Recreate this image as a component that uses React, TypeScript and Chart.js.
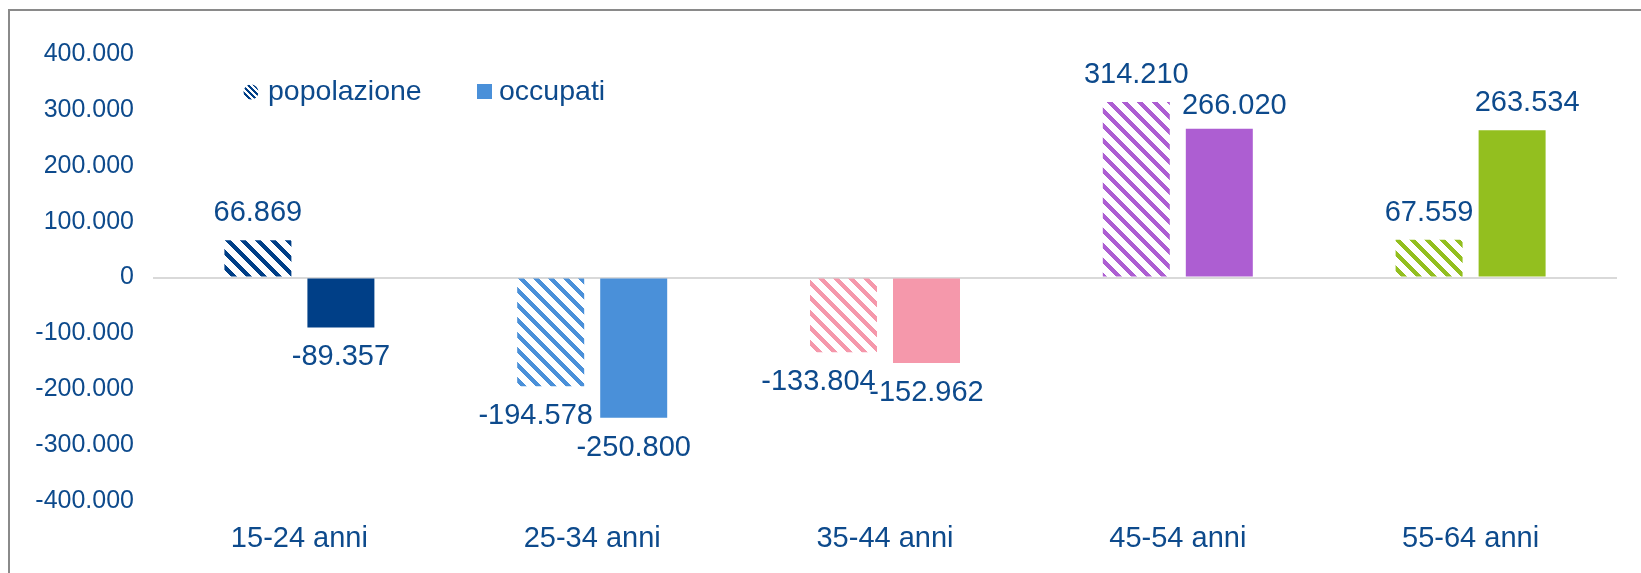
import React, { useEffect, useRef } from "react";
import { Chart, registerables } from "chart.js";

Chart.register(...registerables);

const categories = ["15-24 anni", "25-34 anni", "35-44 anni", "45-54 anni", "55-64 anni"];
const popolazione = [66869, -194578, -133804, 314210, 67559];
const occupati = [-89357, -250800, -152962, 266020, 263534];
const seriesNames = ["popolazione", "occupati"];
const yTickValues = [400000, 300000, 200000, 100000, 0, -100000, -200000, -300000, -400000];
const yTickLabels = ["400.000", "300.000", "200.000", "100.000", "0", "-100.000", "-200.000", "-300.000", "-400.000"];
const categoryColors = ["#003F87", "#4A90D9", "#F598AB", "#AD5ED2", "#93BF1F"];

// label nudges (styling only)
const popLabelDx = [0, -15, -25, 0, 0];
const occLabelDx = [0, 0, 0, 15, 15];
const occLabelDy = [0, 0, 0, 4, 0];

const TEXT = "#0D4A8C";
const FONT = "'Liberation Sans', Arial, sans-serif";

function fmt(v: number): string {
  const s = Math.abs(Math.round(v)).toString().replace(/\B(?=(\d{3})+(?!\d))/g, ".");
  return (v < 0 ? "-" : "") + s;
}

function makePattern(color: string, P: number, w: number): CanvasPattern | string {
  const c = document.createElement("canvas");
  c.width = P;
  c.height = P;
  const g = c.getContext("2d");
  if (!g) return color;
  g.fillStyle = color;
  for (let y = 0; y < P; y++) {
    for (let x = 0; x < P; x++) {
      if ((((x - y) % P) + P) % P < w) g.fillRect(x, y, 1, 1);
    }
  }
  const p = g.createPattern(c, "repeat");
  return p || color;
}

export default function App() {
  const ref = useRef<HTMLCanvasElement | null>(null);

  useEffect(() => {
    const canvas = ref.current;
    if (!canvas) return;
    const patterns = categoryColors.map((c) => makePattern(c, 15, 6));
    const legendPattern = makePattern(categoryColors[0], 6, 3);

    const labelsPlugin = {
      id: "valueLabels",
      afterDatasetsDraw(chart: any) {
        const ctx = chart.ctx;
        ctx.save();
        ctx.font = `29px ${FONT}`;
        ctx.fillStyle = TEXT;
        ctx.textAlign = "center";
        ctx.textBaseline = "middle";
        chart.data.datasets.forEach((ds: any, di: number) => {
          const meta = chart.getDatasetMeta(di);
          meta.data.forEach((bar: any, i: number) => {
            const v = ds.data[i];
            const dx = di === 0 ? popLabelDx[i] : occLabelDx[i];
            const dy = di === 1 ? occLabelDy[i] : 0;
            const y = v >= 0 ? bar.y - 27 + dy : bar.y + 30 + dy;
            ctx.fillText(fmt(v), bar.x + dx, y);
          });
        });
        ctx.restore();
      },
    };

    const legendPlugin = {
      id: "customLegend",
      afterDraw(chart: any) {
        const ctx = chart.ctx;
        ctx.save();
        ctx.font = `28.5px ${FONT}`;
        ctx.textAlign = "left";
        ctx.textBaseline = "middle";
        ctx.save();
        ctx.beginPath();
        ctx.arc(251, 92, 7.5, 0, Math.PI * 2);
        ctx.clip();
        ctx.fillStyle = legendPattern as any;
        ctx.fillRect(243, 84, 16, 16);
        ctx.restore();
        ctx.fillStyle = TEXT;
        ctx.fillText(seriesNames[0], 268, 92);
        ctx.fillStyle = categoryColors[1];
        ctx.fillRect(477, 84, 15, 15);
        ctx.fillStyle = TEXT;
        ctx.fillText(seriesNames[1], 499, 92);
        ctx.restore();
      },
    };

    const chart = new Chart(canvas, {
      type: "bar",
      data: {
        labels: categories,
        datasets: [
          {
            label: seriesNames[0],
            data: popolazione,
            backgroundColor: patterns as any,
            borderWidth: 0,
            categoryPercentage: 0.567,
            barPercentage: 0.807,
          },
          {
            label: seriesNames[1],
            data: occupati,
            backgroundColor: categoryColors,
            borderWidth: 0,
            categoryPercentage: 0.567,
            barPercentage: 0.807,
          },
        ],
      },
      options: {
        animation: false,
        responsive: false,
        maintainAspectRatio: false,
        devicePixelRatio: 1,
        layout: { padding: { top: 54, right: 24, left: 0, bottom: 0 } },
        plugins: {
          legend: { display: false },
          tooltip: { enabled: false },
        },
        scales: {
          x: {
            grid: { display: false, drawTicks: false },
            border: { display: false },
            ticks: {
              color: TEXT,
              font: { family: FONT, size: 29 },
              padding: 21,
              maxRotation: 0,
            },
            afterFit: (s: any) => {
              s.height = 72;
            },
          },
          y: {
            min: -400000,
            max: 400000,
            grid: {
              drawTicks: false,
              color: (c: any) => (c.tick && c.tick.value === 0 ? "#D9D9D9" : "rgba(0,0,0,0)"),
              lineWidth: 2,
            },
            border: { display: false },
            afterBuildTicks: (s: any) => {
              s.ticks = yTickValues.map((v) => ({ value: v }));
            },
            ticks: {
              color: TEXT,
              font: { family: FONT, size: 25 },
              padding: 19,
              callback: (v: any) => {
                const i = yTickValues.indexOf(Number(v));
                return i >= 0 ? yTickLabels[i] : "";
              },
            },
            afterFit: (s: any) => {
              s.width = 153;
            },
          },
        },
      },
      plugins: [labelsPlugin, legendPlugin],
    });
    return () => chart.destroy();
  }, []);

  return (
    <div style={{ position: "absolute", left: 0, top: 0, width: 1641, height: 573, background: "#fff", overflow: "hidden" }}>
      <canvas ref={ref} width={1641} height={573} style={{ display: "block", width: 1641, height: 573 }} />
      <div
        style={{
          position: "absolute",
          left: 8,
          top: 9,
          width: 1700,
          height: 700,
          borderLeft: "2px solid #8a8a8a",
          borderTop: "2px solid #8a8a8a",
          pointerEvents: "none",
        }}
      />
    </div>
  );
}
